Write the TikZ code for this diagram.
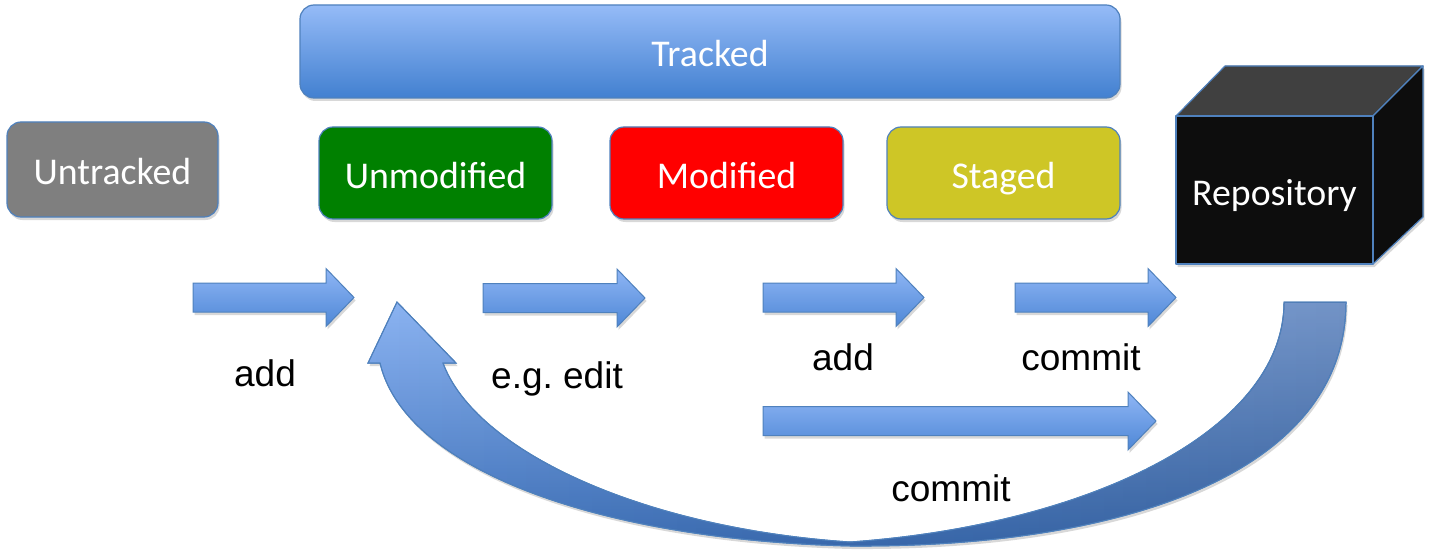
\documentclass[tikz,border=0pt]{standalone}
\usepackage{fontspec}
\setmainfont{Carlito}
\newfontfamily\labelfont{Liberation Sans}
\usetikzlibrary{shadows,fadings}
\definecolor{bordblue}{RGB}{79,129,189}
\definecolor{trTop}{RGB}{149,187,247}
\definecolor{trBot}{RGB}{66,128,208}
\definecolor{arTop}{RGB}{143,182,245}
\definecolor{arBot}{RGB}{78,135,214}
\definecolor{untrC}{RGB}{127,127,127}
\definecolor{unmodC}{RGB}{0,128,0}
\definecolor{modC}{RGB}{255,0,0}
\definecolor{stagedC}{RGB}{206,198,38}
\definecolor{cubeTop}{RGB}{64,64,64}
\definecolor{cubeFront}{RGB}{13,13,13}
\definecolor{cvTop}{RGB}{140,180,242}
\definecolor{cvBot}{RGB}{62,114,188}
\tikzset{
  x=1pt, y=-1pt,
  shadowed/.style={drop shadow={opacity=0.3, shadow xshift=1.5pt, shadow yshift=-3pt}},
  boxtext/.style={text=white, font=\fontsize{37.8}{42}\selectfont, text height=31pt, text depth=0pt},
  statebox/.style={draw=bordblue, line width=1.2pt, rounded corners=14pt, shadowed,
    boxtext, inner sep=0pt},
  lbl/.style={font=\labelfont\fontsize{37}{42}\selectfont, anchor=base, inner sep=0pt},
  blockfill/.style={top color=arTop, bottom color=arBot, draw=bordblue, line width=1pt, shadowed},
  blockarrow/.pic={\path[blockfill] (0,-14.5) -- (#1-28,-14.5) -- (#1-28,-29) -- (#1,0)
      -- (#1-28,29) -- (#1-28,14.5) -- (0,14.5) -- cycle;},
  cubeface/.style={draw=bordblue, line width=1.2pt, line join=round},
  curvefill/.style={top color=cvTop, bottom color=cvBot, draw=bordblue, line width=1pt, shadowed},
  curvedarrow/.pic={\path[#1] (1284,302) .. controls (1284,430) and (1090,525) .. (850,542)
    .. controls (640,528) and (475,450) .. (443,363)
    -- (456,363) -- (397,302) -- (368,363) -- (380,363)
    .. controls (405,470) and (600,540) .. (850,546)
    .. controls (1130,548) and (1346,470) .. (1346,302) -- cycle;}
}
\begin{document}
\begin{tikzpicture}
\useasboundingbox (0,0) rectangle (1431,556);
\fill[white] (0,0) rectangle (1431,556);

% Tracked bar
\node[statebox, top color=trTop, bottom color=trBot, minimum width=820pt, minimum height=93pt]
  (tracked) at (710,51.5) {Tracked};

% state boxes
\node[statebox, fill=untrC, minimum width=211pt, minimum height=95pt] (untracked) at (112.5,169.5) {Untracked};
\node[statebox, fill=unmodC, minimum width=233pt, minimum height=92pt] (unmod) at (435.5,173) {Unmodified};
\node[statebox, fill=modC, minimum width=233pt, minimum height=92pt] (mod) at (726.5,173) {Modified};
\node[statebox, fill=stagedC, minimum width=233pt, minimum height=92pt] (staged) at (1003.5,173) {Staged};

% repository cube
\path[fill=cubeFront, shadowed] (1176,116) -- (1225,66) -- (1423,66) -- (1423,217) -- (1373,264) -- (1176,264) -- cycle;
\path[cubeface, fill=cubeTop] (1176,116) -- (1225,66) -- (1423,66) -- (1373,116) -- cycle;
\path[cubeface, fill=cubeFront] (1373,116) -- (1423,66) -- (1423,217) -- (1373,264) -- cycle;
\path[cubeface, fill=cubeFront] (1176,116) rectangle (1373,264);
\node[boxtext, inner sep=0pt] (repo) at (1274.5,190) {Repository};

% block arrows
\pic at (193,297.5) {blockarrow=161};
\pic at (483,298) {blockarrow=162};
\pic at (763,297.5) {blockarrow=161};
\pic at (1015,297.5) {blockarrow=161};
\pic at (763,421) {blockarrow=393};

% curved arrow back to Unmodified
\pic {curvedarrow=curvefill};
\pic {curvedarrow={fill=black, opacity=0.18, path fading=west}};
\pic {curvedarrow={draw=bordblue, line width=1pt}};

% labels
\node[lbl] (addA) at (265,386) {add};
\node[lbl] (edit) at (557,388) {e.g.\ edit};
\node[lbl] (addB) at (843,370) {add};
\node[lbl] (commitA) at (1081,370) {commit};
\node[lbl] (commitB) at (951,501) {commit};
\end{tikzpicture}
\end{document}
